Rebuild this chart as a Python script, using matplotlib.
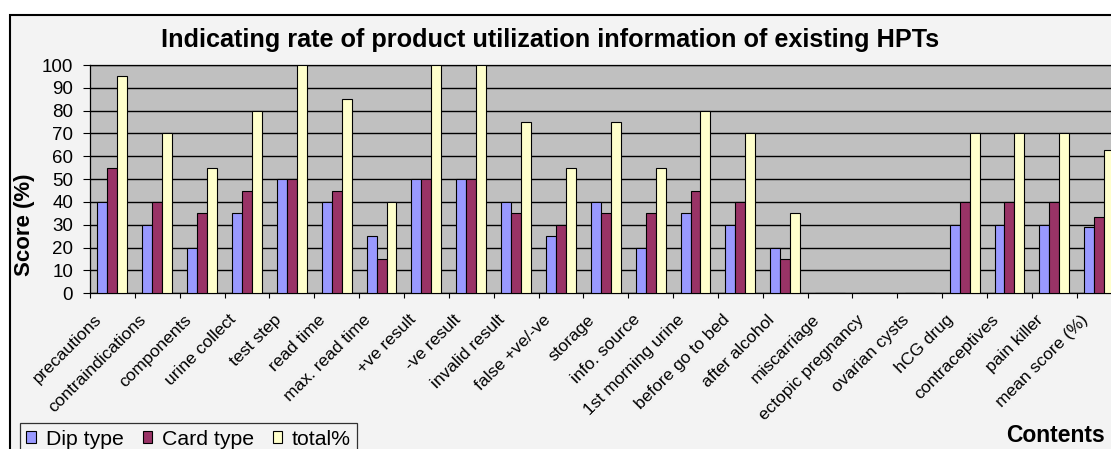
import matplotlib
matplotlib.use("Agg")
import matplotlib.pyplot as plt
from matplotlib.patches import Rectangle
from matplotlib.transforms import ScaledTranslation
import numpy as np

plt.rcParams['font.family'] = ['Liberation Sans', 'DejaVu Sans']

categories = ["precautions", "contraindications", "components", "urine collect",
              "test step", "read time", "max. read time", "+ve result", "-ve result",
              "invalid result", "false +ve/-ve", "storage", "info. source",
              "1st morning urine", "before go to bed", "after alcohol", "miscarriage",
              "ectopic pregnancy", "ovarian cysts", "hCG drug", "contraceptives",
              "pain killer", "mean score (%)"]
dip_type = [40, 30, 20, 35, 50, 40, 25, 50, 50, 40, 25, 40, 20, 35, 30, 20, 0, 0, 0,
            30, 30, 30, 29.1]
card_type = [55, 40, 35, 45, 50, 45, 15, 50, 50, 35, 30, 35, 35, 45, 40, 15, 0, 0, 0,
             40, 40, 40, 33.6]
total_pct = [95, 70, 55, 80, 100, 85, 40, 100, 100, 75, 55, 75, 55, 80, 70, 35, 0, 0, 0,
             70, 70, 70, 62.7]
series_names = ["Dip type", "Card type", "total%"]
series_colors = ["#9999FF", "#993366", "#FFFFCC"]
yticks = list(range(0, 101, 10))

W, H = 1111, 449
fig = plt.figure(figsize=(W / 100, H / 100), dpi=100)
fig.patch.set_facecolor("white")

# chart area
fig.patches.append(Rectangle((9.5 / W, -0.1), 1.2, 1.1 - 15.5 / H,
                             transform=fig.transFigure, facecolor="#f3f3f3",
                             edgecolor="black", linewidth=1.5, zorder=-10))

left, right = 90 / W, 1121.6 / W
bottom, top = 1 - 293.3 / H, 1 - 65 / H
ax = fig.add_axes([left, bottom, right - left, top - bottom])
ax.set_facecolor("#C0C0C0")

n = len(categories)
x = np.arange(n)
bw = 1 / 4.5
for k, (vals, name, col) in enumerate(zip([dip_type, card_type, total_pct],
                                          series_names, series_colors)):
    ax.bar(x + (k - 1) * bw, vals, width=bw, color=col, edgecolor="black",
           linewidth=0.8, label=name, zorder=3)

ax.set_xlim(-0.5, n - 0.5)
ax.set_ylim(0, 100)
ax.set_yticks(yticks)
ax.yaxis.grid(True, color="black", linewidth=1)
ax.set_axisbelow(True)
ax.tick_params(axis="y", direction="out", length=5.2, width=0.8, labelsize=13.5, pad=7)

ax.set_xticks(np.arange(n + 1) - 0.5)
ax.set_xticklabels([])
ax.set_xticks(x, minor=True)
ax.set_xticklabels(categories, minor=True, rotation=45, ha="right", va="top", fontsize=12.5)
ax.tick_params(axis="x", which="major", direction="out", length=3.6, width=0.8)
ax.tick_params(axis="x", which="minor", length=0, pad=13.5)
shift = ScaledTranslation(-8 / 100, 0, fig.dpi_scale_trans)
for lab in ax.get_xticklabels(minor=True):
    lab.set_transform(lab.get_transform() + shift)

for s in ax.spines.values():
    s.set_color("black")
    s.set_linewidth(0.9)

ax.set_ylabel("Score (%)", fontsize=16, fontweight="bold")
ax.yaxis.set_label_coords(35 / W, 0.5, transform=fig.transFigure)

fig.text(550 / W, 1 - 46.7 / H, "Indicating rate of product utilization information of existing HPTs",
         ha="center", va="baseline", fontsize=18.2, fontweight="bold")
fig.text(1006 / W, 1 - 441.7 / H, "Contents", ha="left", va="baseline",
         fontsize=16.5, fontweight="bold")

leg = fig.legend(loc="upper left", bbox_to_anchor=(20 / W, 1 - 423.3 / H),
                 ncol=3, fontsize=15.3, frameon=True, fancybox=False, shadow=False,
                 handlelength=0.45, handleheight=0.45, handletextpad=0.45,
                 columnspacing=0.9, borderpad=0.3, borderaxespad=0)
leg.get_frame().set_edgecolor("black")
leg.get_frame().set_linewidth(0.9)
leg.get_frame().set_facecolor("#f3f3f3")

fig.savefig("out.png", dpi=100)
